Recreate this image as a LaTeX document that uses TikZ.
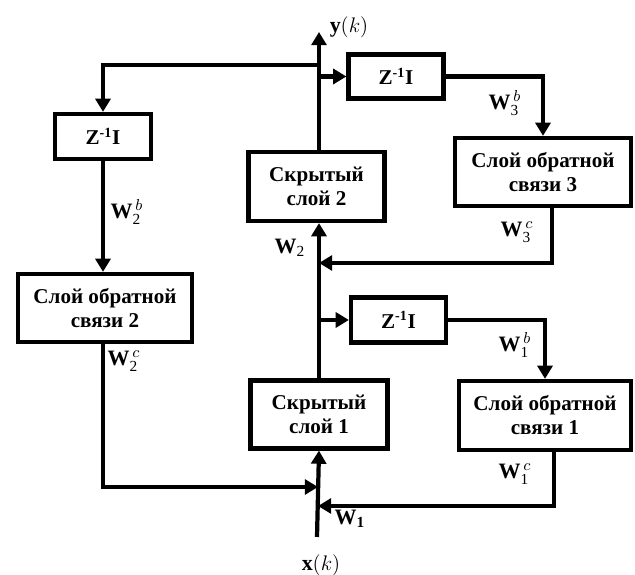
\documentclass[tikz,border=0pt]{standalone}
\usepackage{amsmath}
\usepackage{fontspec}
\setmainfont{Liberation Serif}
\usepackage{tikz}
\usetikzlibrary{arrows.meta, positioning, calc}

\tikzset{
  block/.style={draw, line width=2.4pt, align=center, inner sep=2pt,
    font=\fontsize{12}{13.6}\selectfont\bfseries},
  conn/.style={line width=2.4pt, -{Triangle[length=7.5pt,width=8.5pt]}},
  lbl/.style={inner sep=0pt, font=\fontsize{12.5}{13.6}\selectfont},
}

\begin{document}
\begin{tikzpicture}
\useasboundingbox (0,0) rectangle (12.7,11.5);
% hidden layers
\node[block, minimum width=2.74cm, minimum height=1.36cm] (h1) at (6.38,3.21) {Скрытый\\слой 1};
\node[block, minimum width=2.72cm, minimum height=1.38cm] (h2) at (6.33,7.77) {Скрытый\\слой 2};
% delays
\node[block, minimum width=1.92cm, minimum height=0.9cm] (zl) at (2.06,8.77) {Z$^{\textbf{-1}}$I};
\node[block, minimum width=1.9cm, minimum height=0.88cm] (zt) at (7.92,9.97) {Z$^{\textbf{-1}}$I};
\node[block, minimum width=1.9cm, minimum height=0.9cm] (zb) at (7.97,5.1) {Z$^{\textbf{-1}}$I};
% feedback layers
\node[block, minimum width=3.48cm, minimum height=1.36cm] (fb2) at (2.1,5.34) {Слой обратной\\связи 2};
\node[block, minimum width=3.52cm, minimum height=1.36cm] (fb3) at (10.86,8.06) {Слой обратной\\связи 3};
\node[block, minimum width=3.44cm, minimum height=1.38cm] (fb1) at (10.9,3.19) {Слой обратной\\связи 1};

\coordinate (xin) at (6.34,0.76);
\coordinate (yout) at (6.38,10.86);
\coordinate (top) at (6.38,10.2);
\coordinate (j3) at (6.38,6.24);
\coordinate (j2) at (6.36,1.76);
\coordinate (j1) at (6.36,1.38);

% trunk
\draw[conn] (xin) -- (h1.south);
\draw[conn] (h1.north) -- (h1.north |- h2.south);
\draw[conn] (h1.north |- h2.north) -- (yout);
% loop over layer 2
\draw[conn] (top) -| (zl.north);
\draw[conn] (zl.south) -- (zl.south |- fb2.north);
\draw[conn] (zl.south |- fb2.south) |- (j2);
% loop over layer 3
\draw[conn] (zt.west -| yout) -- (zt.west);
\draw[conn] (zt.east) -| (fb3.north);
\draw[conn] ([xshift=1.8mm]fb3.south) |- (j3);
% loop over layer 1
\draw[conn] (zb.west -| yout) -- (zb.west);
\draw[conn] (zb.east) -| (fb1.north);
\draw[conn] ([xshift=1.8mm]fb1.south) |- (j1);

% labels
\node[lbl] (ylab) at (6.98,10.96) {$\mathbf{y}(k)$};
\node[lbl] (xlab) at (6.42,0.2) {$\mathbf{x}(k)$};
\node[lbl] (w2b) at (2.54,7.26) {\textbf{W}$^{\,b}_{\textrm{2}}$};
\node[lbl] (w2c) at (2.48,4.28) {\textbf{W}$^{\,c}_{\textrm{2}}$};
\node[lbl] (w3b) at (10.1,9.44) {\textbf{W}$^{\,b}_{\textrm{3}}$};
\node[lbl] (w3c) at (10.34,6.86) {\textbf{W}$^{\,c}_{\textrm{3}}$};
\node[lbl] (w1b) at (10.3,4.6) {\textbf{W}$^{\,b}_{\textrm{1}}$};
\node[lbl] (w1c) at (10.3,2.02) {\textbf{W}$^{\,c}_{\textrm{1}}$};
\node[lbl] (w2) at (5.8,6.54) {\textbf{W}$_{\textrm{2}}$};
\node[lbl] (w1) at (7.0,1.12) {\textbf{W}$_{\textbf{1}}$};
\end{tikzpicture}
\end{document}
